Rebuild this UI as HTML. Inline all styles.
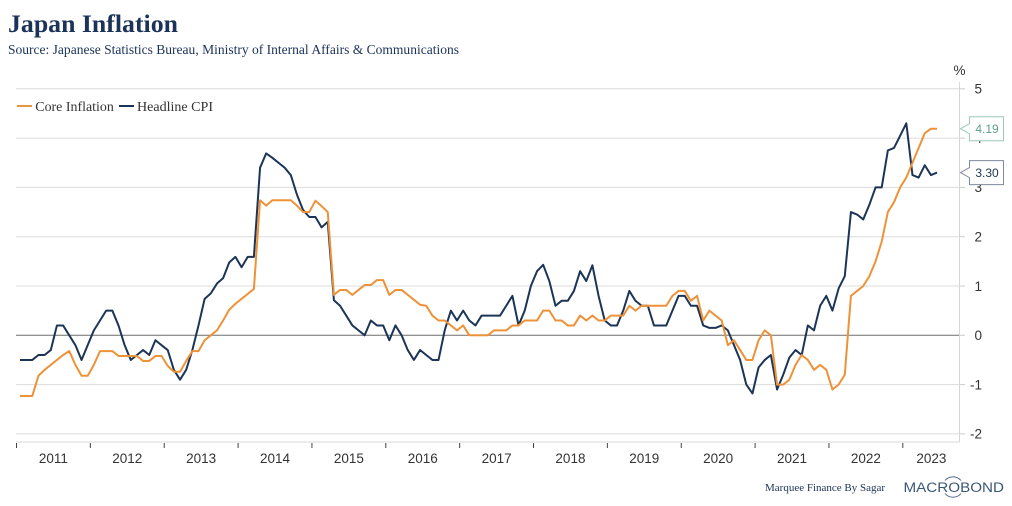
<!DOCTYPE html>
<html lang="en">
<head>
<meta charset="utf-8">
<title>Japan Inflation</title>
<style>
html,body{margin:0;padding:0;background:#fff;}
body{width:1012px;height:506px;overflow:hidden;}
svg{display:block;}
.sans{font-family:"Liberation Sans",Arial,sans-serif;}
.serif{font-family:"Liberation Serif","Times New Roman",serif;}
</style>
</head>
<body>
<svg id="chart" xmlns="http://www.w3.org/2000/svg" width="1012" height="506" viewBox="0 0 1012 506">
  <rect x="0" y="0" width="1012" height="506" fill="#ffffff"/>
  <text class="serif" x="8" y="32" font-size="25" font-weight="bold" fill="#1b3259" textLength="170" lengthAdjust="spacingAndGlyphs">Japan Inflation</text>
  <text class="serif" x="8" y="54" font-size="13.5" fill="#1b3259" textLength="451" lengthAdjust="spacingAndGlyphs">Source: Japanese Statistics Bureau, Ministry of Internal Affairs &amp; Communications</text>
  <g id="grid"></g>
  <line x1="959.5" y1="82" x2="959.5" y2="442" stroke="#d4d7da" stroke-width="1"/>
  <line x1="16" y1="442" x2="960" y2="442" stroke="#d9d9d9" stroke-width="1"/>
  <g id="xaxis"></g>
  <g id="yaxis"></g>
  <text class="sans" x="953.5" y="75" font-size="13.5" fill="#333333">%</text>
  <g id="series"></g>
  <g id="callouts"></g>
  <g>
    <line x1="17" y1="106" x2="32" y2="106" stroke="#e8963f" stroke-width="2"/>
    <text class="serif" x="35.3" y="111" font-size="14" fill="#333333" textLength="78.5" lengthAdjust="spacingAndGlyphs">Core Inflation</text>
    <line x1="119" y1="106" x2="134" y2="106" stroke="#1c3557" stroke-width="2"/>
    <text class="serif" x="137" y="111" font-size="14" fill="#333333" textLength="76" lengthAdjust="spacingAndGlyphs">Headline CPI</text>
  </g>
  <text class="serif" x="765" y="491" font-size="11" fill="#1b3259" textLength="120" lengthAdjust="spacingAndGlyphs">Marquee Finance By Sagar</text>
  <g>
    <text class="sans" x="903.5" y="492" font-size="13.5" fill="#3a5676" textLength="100.5" lengthAdjust="spacingAndGlyphs">MACROBOND</text>
    <path d="M945,480.5 A10.5,10.5 0 0 1 961,480.5" fill="none" stroke="#3a5676" stroke-width="0.9"/>
    <path d="M945,493.5 A10.5,10.5 0 0 0 961,493.5" fill="none" stroke="#3a5676" stroke-width="0.9"/>
  </g>
</svg>
<script>
const NS = 'http://www.w3.org/2000/svg';
const years = ['2011','2012','2013','2014','2015','2016','2017','2018','2019','2020','2021','2022','2023'];
const yTicks = [5,4,3,2,1,0,-1,-2];
const headlineCpi = [
  -0.5,-0.5,-0.5,-0.4,-0.4,-0.3,0.2,0.2,0,-0.2,-0.5,-0.2,
  0.1,0.3,0.5,0.5,0.2,-0.2,-0.5,-0.4,-0.3,-0.4,-0.1,-0.2,
  -0.3,-0.7,-0.9,-0.7,-0.3,0.2,0.74,0.85,1.05,1.16,1.48,1.59,
  1.38,1.59,1.59,3.4,3.69,3.6,3.5,3.4,3.25,2.85,2.54,2.4,
  2.4,2.19,2.3,0.71,0.6,0.4,0.2,0.1,0,0.3,0.2,0.2,
  -0.1,0.2,0,-0.3,-0.5,-0.3,-0.4,-0.5,-0.5,0.1,0.5,0.3,
  0.5,0.3,0.2,0.4,0.4,0.4,0.4,0.6,0.8,0.2,0.5,1.0,
  1.3,1.43,1.1,0.6,0.7,0.7,0.9,1.3,1.1,1.42,0.8,0.3,
  0.2,0.2,0.5,0.9,0.7,0.6,0.6,0.2,0.2,0.2,0.5,0.8,
  0.8,0.6,0.6,0.2,0.15,0.15,0.2,0.1,-0.2,-0.5,-1.0,-1.18,
  -0.65,-0.5,-0.4,-1.1,-0.8,-0.45,-0.3,-0.4,0.2,0.1,0.6,0.8,
  0.5,0.95,1.2,2.5,2.45,2.35,2.65,3,3,3.75,3.8,4.05,
  4.3,3.25,3.2,3.45,3.25,3.3
];
const coreInflation = [
  -1.23,-1.23,-1.23,-0.82,-0.7,-0.6,-0.5,-0.4,-0.32,-0.6,-0.82,-0.82,
  -0.6,-0.32,-0.32,-0.32,-0.42,-0.42,-0.42,-0.42,-0.52,-0.52,-0.42,-0.42,
  -0.62,-0.74,-0.74,-0.52,-0.32,-0.32,-0.1,0,0.1,0.3,0.52,0.64,
  0.74,0.84,0.94,2.74,2.63,2.74,2.74,2.74,2.74,2.63,2.5,2.5,
  2.73,2.62,2.5,0.82,0.92,0.92,0.82,0.92,1.02,1.02,1.12,1.12,
  0.82,0.92,0.92,0.82,0.72,0.62,0.6,0.4,0.3,0.3,0.2,0.1,
  0.2,0,0,0,0,0.1,0.1,0.1,0.2,0.2,0.3,0.3,
  0.3,0.5,0.5,0.3,0.3,0.2,0.2,0.4,0.3,0.4,0.3,0.3,
  0.4,0.4,0.4,0.6,0.5,0.6,0.6,0.6,0.6,0.6,0.8,0.9,
  0.9,0.7,0.8,0.3,0.5,0.4,0.3,-0.2,-0.1,-0.3,-0.5,-0.5,
  -0.1,0.1,0,-1.0,-1.0,-0.9,-0.6,-0.4,-0.5,-0.7,-0.6,-0.7,
  -1.1,-1.0,-0.8,0.8,0.9,1.0,1.2,1.5,1.9,2.5,2.7,3.0,
  3.2,3.5,3.8,4.1,4.19,4.19
];

function x(i){ return 20 + 6.155 * i; }
function y(v){ return 335.3 - 49.3 * v; }
function tickX(k){ return x(12 * k) - 3.5; }

function make(tag, attrs, parent){
  const el = document.createElementNS(NS, tag);
  for (const key in attrs) el.setAttribute(key, attrs[key]);
  parent.appendChild(el);
  return el;
}

const grid = document.getElementById('grid');
const yaxis = document.getElementById('yaxis');
const xaxis = document.getElementById('xaxis');
const seriesGroup = document.getElementById('series');
const callouts = document.getElementById('callouts');

yTicks.forEach(function(v){
  const line = make('line', {x1:16, x2:960, y1:y(v), y2:y(v), stroke: v === 0 ? '#6f6f6f' : '#dcdcdc', 'stroke-width':1}, grid);
  
  
  const tick = make('line', {x1:960, x2:965, y1:y(v), y2:y(v), stroke:'#c9cccf', 'stroke-width':1}, yaxis);
  
  
  const label = make('text', {x:982, y:y(v) + 4.8, 'text-anchor':'end', 'font-size':13.5, fill:'#333333', 'class':'sans'}, yaxis);
  
  
  label.textContent = String(v);
});

years.forEach(function(year, k){
  const tx = tickX(k);
  const tick = make('line', {x1:tx, x2:tx, y1:443, y2:448, stroke:'#444444', 'stroke-width':1}, xaxis);
  
  
  const next = k === years.length - 1 ? 960 : tickX(k + 1);
  const label = make('text', {x:(tx + next) / 2, y:463, 'text-anchor':'middle', 'font-size':13.5, fill:'#333333', 'class':'sans'}, xaxis);
  
  
  label.textContent = year;
});

function pathFor(values){
  return values.map(function(v, i){
    return (i ? 'L' : 'M') + x(i).toFixed(2) + ',' + y(v).toFixed(2);
  }).join(' ');
}

const headlinePath = make('path', {d:pathFor(headlineCpi), fill:'none', stroke:'#1c3557', 'stroke-width':2, 'stroke-linejoin':'round'}, seriesGroup);



const corePath = make('path', {d:pathFor(coreInflation), fill:'none', stroke:'#ee9238', 'stroke-width':2, 'stroke-linejoin':'round'}, seriesGroup);



function calloutPath(cy){
  return 'M969.5,' + (cy - 12) + ' H1003.5 V' + (cy + 12) + ' H969.5 V' + (cy + 5) + ' L960.5,' + cy + ' L969.5,' + (cy - 5) + ' Z';
}

const coreLast = coreInflation[coreInflation.length - 1];
const coreBox = make('path', {d:calloutPath(y(coreLast)), fill:'#ffffff', stroke:'#9cc9b6', 'stroke-width':1}, callouts);


const coreText = make('text', {x:987, y:y(coreLast) + 4.2, 'text-anchor':'middle', 'font-size':12, fill:'#5f9f88', 'class':'sans'}, callouts);


coreText.textContent = coreLast.toFixed(2);

const headlineLast = headlineCpi[headlineCpi.length - 1];
const headlineBox = make('path', {d:calloutPath(y(headlineLast)), fill:'#ffffff', stroke:'#7f8a9c', 'stroke-width':1}, callouts);


const headlineText = make('text', {x:987, y:y(headlineLast) + 4.2, 'text-anchor':'middle', 'font-size':12, fill:'#1c3557', 'class':'sans'}, callouts);


headlineText.textContent = headlineLast.toFixed(2);
</script>
</body>
</html>
